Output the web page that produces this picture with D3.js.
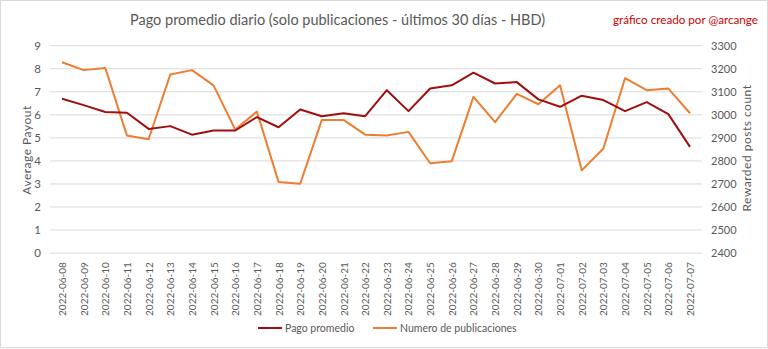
<!DOCTYPE html>
<html><head><meta charset="utf-8">
<script src="https://cdn.jsdelivr.net/npm/d3@7"></script>
<style>body{margin:0;background:#fff}svg{display:block}text{font-family:Lato,"Open Sans",sans-serif}</style>
</head><body>
<svg id="c" width="768" height="349"></svg>
<script>
const dates = ["2022-06-08","2022-06-09","2022-06-10","2022-06-11","2022-06-12","2022-06-13","2022-06-14","2022-06-15","2022-06-16","2022-06-17","2022-06-18","2022-06-19","2022-06-20","2022-06-21","2022-06-22","2022-06-23","2022-06-24","2022-06-25","2022-06-26","2022-06-27","2022-06-28","2022-06-29","2022-06-30","2022-07-01","2022-07-02","2022-07-03","2022-07-04","2022-07-05","2022-07-06","2022-07-07"];
const pago = [6.70,6.42,6.12,6.09,5.39,5.51,5.14,5.32,5.32,5.90,5.46,6.23,5.94,6.07,5.94,7.07,6.16,7.14,7.28,7.83,7.36,7.42,6.67,6.35,6.83,6.64,6.16,6.55,6.03,4.61];
const publicaciones = [3228,3194,3203,2910,2894,3175,3194,3128,2936,3014,2709,2701,2978,2978,2914,2910,2926,2790,2799,3078,2968,3091,3046,3128,2759,2854,3159,3107,3114,3007];
const leftTicks = [0,1,2,3,4,5,6,7,8,9];
const rightTicks = [2400,2500,2600,2700,2800,2900,3000,3100,3200,3300];
const title = "Pago promedio diario (solo publicaciones - últimos 30 días - HBD)";
const credit = "gráfico creado por @arcange";
const seriesNames = ["Pago promedio","Numero de publicaciones"];

const svg = d3.select("#c");
const C1 = "#a00f0f", C2 = "#ED7D31", TXT = "#595959";
const plotL = 50, plotR = 702, plotT = 45.7, plotB = 253.1;

svg.append("rect").attr("x",0.5).attr("y",0.5).attr("width",767).attr("height",347)
  .attr("fill","#fff").attr("stroke","#d9d9d9");

const x = d3.scalePoint().domain(dates).range([62, 690]);
const yL = d3.scaleLinear().domain([0,9]).range([plotB, plotT]);
const yR = d3.scaleLinear().domain([2400,3300]).range([plotB, plotT]);

// gridlines
svg.append("g").selectAll("line").data(leftTicks).join("line")
  .attr("x1",plotL).attr("x2",plotR).attr("y1",d=>yL(d)).attr("y2",d=>yL(d))
  .attr("stroke","#d9d9d9").attr("stroke-width",1);

// left axis
const gl = svg.append("g").attr("transform",`translate(${plotL-8},0)`)
  .call(d3.axisLeft(yL).tickValues(leftTicks).tickSize(0).tickPadding(0));
gl.select(".domain").remove();
gl.selectAll("text").attr("fill",TXT).style("font-size","11.5px").attr("dx","-1");

// right axis
const gr = svg.append("g").attr("transform",`translate(${plotR+9},0)`)
  .call(d3.axisRight(yR).tickValues(rightTicks).tickFormat(d3.format("d")).tickSize(0).tickPadding(0));
gr.select(".domain").remove();
gr.selectAll("text").attr("fill",TXT).style("font-size","11px");

// x axis labels
const gx = svg.append("g").attr("transform",`translate(0,${plotB})`)
  .call(d3.axisBottom(x).tickSize(0).tickPadding(0));
gx.select(".domain").remove();
gx.selectAll("text").attr("fill",TXT).style("font-size","10px")
  .attr("transform","rotate(-90)").attr("text-anchor","end")
  .attr("x",-9).attr("y",0).attr("dy","0.35em");

// axis titles
svg.append("text").attr("transform","translate(27,150) rotate(-90)").attr("text-anchor","middle")
  .attr("dy","0.35em").attr("fill",TXT).style("font-size","12px").style("letter-spacing","0.5px").text("Average Payout");
svg.append("text").attr("transform","translate(746.5,148) rotate(-90)").attr("text-anchor","middle")
  .attr("dy","0.35em").attr("fill",TXT).style("font-size","12px").style("letter-spacing","0.5px").text("Rewarded posts count");

// lines
svg.append("path").datum(publicaciones).attr("fill","none").attr("stroke",C2).attr("stroke-width",2)
  .attr("stroke-linejoin","round")
  .attr("d", d3.line().x((d,i)=>x(dates[i])).y(d=>yR(d)));
svg.append("path").datum(pago).attr("fill","none").attr("stroke",C1).attr("stroke-width",2)
  .attr("stroke-linejoin","round")
  .attr("d", d3.line().x((d,i)=>x(dates[i])).y(d=>yL(d)));

// title
svg.append("text").attr("x",337.5).attr("y",20).attr("dy","0.35em").attr("text-anchor","middle")
  .attr("fill",TXT).style("font-size","15.5px")
  .attr("textLength",415).attr("lengthAdjust","spacingAndGlyphs").text(title);
svg.append("text").attr("x",613).attr("y",20).attr("dy","0.35em")
  .attr("fill","#cc0000").style("font-size","11.5px")
  .attr("textLength",145).attr("lengthAdjust","spacingAndGlyphs").text(credit);

// legend
const leg = [{n:seriesNames[0],c:C1,x:258},{n:seriesNames[1],c:C2,x:373}];
const lg = svg.append("g").selectAll("g").data(leg).join("g").attr("transform",d=>`translate(${d.x},328)`);
lg.append("line").attr("x1",0).attr("x2",24).attr("stroke",d=>d.c).attr("stroke-width",2);
lg.append("text").attr("x",27).attr("dy","0.35em").attr("fill",TXT).style("font-size","10.5px").text(d=>d.n);
</script>
</body></html>
